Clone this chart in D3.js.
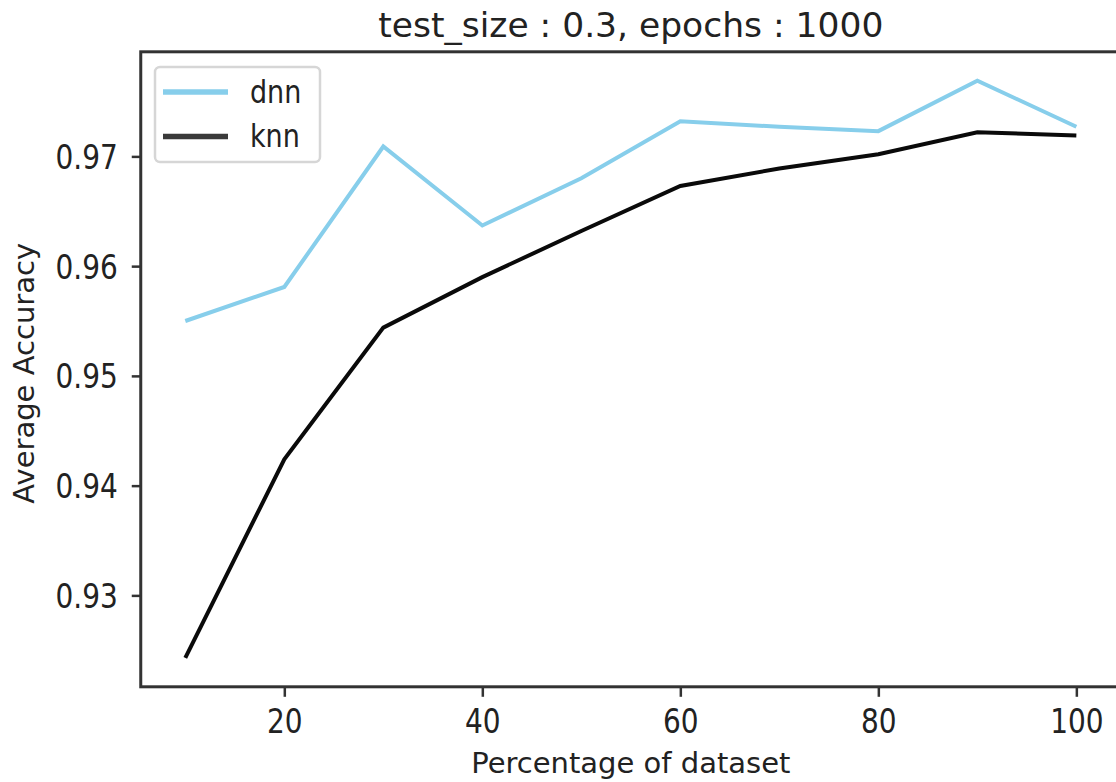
<!DOCTYPE html>
<html>
<head>
<meta charset="utf-8">
<script src="https://cdn.jsdelivr.net/npm/d3@7"></script>
<style>
  html, body { margin: 0; padding: 0; background: #fff; }
  svg { display: block; font-family: "DejaVu Sans", sans-serif; }
</style>
</head>
<body>
<svg id="chart" width="1116" height="782"></svg>
<script>
// ---- data ----
const percentages = [10, 20, 30, 40, 50, 60, 70, 80, 90, 100];
const dnnAccuracy = [0.9550, 0.9581, 0.9709, 0.9637, 0.9680, 0.9732, 0.9727, 0.9723, 0.9769, 0.9727];
const knnAccuracy = [0.9243, 0.9424, 0.9544, 0.9590, 0.9632, 0.9673, 0.9689, 0.9702, 0.9722, 0.9719];
const seriesNames = ["dnn", "knn"];
const xTicks = [20, 40, 60, 80, 100];
const yTicks = [0.93, 0.94, 0.95, 0.96, 0.97];
const titleText = "test_size : 0.3, epochs : 1000";
const xLabelText = "Percentage of dataset";
const yLabelText = "Average Accuracy";

// ---- layout ----
const plotLeft = 140.75, plotRight = 1120.9, plotTop = 51.8, plotBottom = 686.8;
const textColor = "#222";
const spineColor = "#333";

const svg = d3.select("#chart");

// matplotlib-like 5% margins
const xExt = d3.extent(percentages);
const xPad = (xExt[1] - xExt[0]) * 0.05;
const allY = dnnAccuracy.concat(knnAccuracy);
const yExt = d3.extent(allY);
const yPad = (yExt[1] - yExt[0]) * 0.05;

const x = d3.scaleLinear().domain([xExt[0] - xPad, xExt[1] + xPad]).range([plotLeft, plotRight]);
const y = d3.scaleLinear().domain([yExt[0] - yPad, yExt[1] + yPad]).range([plotBottom, plotTop]);

// ---- lines ----
const line = d3.line().x((d, i) => x(percentages[i])).y(d => y(d));

svg.append("path").datum(dnnAccuracy)
  .attr("d", line).attr("fill", "none")
  .attr("stroke", "#87CEEB").attr("stroke-width", 4).attr("stroke-linejoin", "miter");
svg.append("path").datum(knnAccuracy)
  .attr("d", line).attr("fill", "none")
  .attr("stroke", "#0a0a0a").attr("stroke-width", 4).attr("stroke-linejoin", "miter");

// ---- axes ----
const xAxis = d3.axisBottom(x).tickValues(xTicks).tickSize(10).tickPadding(12).tickFormat(d3.format("d"));
const yAxis = d3.axisLeft(y).tickValues(yTicks).tickSize(9).tickPadding(14).tickFormat(d3.format(".2f"));

const gx = svg.append("g").attr("transform", `translate(0,${plotBottom})`).call(xAxis);
const gy = svg.append("g").attr("transform", `translate(${plotLeft},0)`).call(yAxis);

[gx, gy].forEach(g => {
  g.select(".domain").remove();
  g.selectAll(".tick line").attr("stroke", spineColor).attr("stroke-width", 2.5);
  g.selectAll(".tick text").attr("fill", textColor).attr("font-size", 28)
    .attr("font-family", "DejaVu Sans");
});
// slight vertical stretch of tick labels as in the reference
gx.selectAll(".tick text").attr("dy", null).attr("y", 0)
  .attr("transform", "translate(0,46) scale(1,1.18)");
gy.selectAll(".tick text").attr("dy", null).attr("x", 0)
  .attr("transform", "translate(-23,12) scale(1,1.18)");

// spines (left, top, bottom; right lies outside the canvas)
svg.append("rect")
  .attr("x", plotLeft).attr("y", plotTop)
  .attr("width", plotRight - plotLeft).attr("height", plotBottom - plotTop)
  .attr("fill", "none").attr("stroke", spineColor).attr("stroke-width", 3);

// ---- titles ----
svg.append("text").attr("x", (plotLeft + plotRight) / 2).attr("y", 37)
  .attr("text-anchor", "middle").attr("font-size", 34.5).attr("fill", textColor)
  .text(titleText);
svg.append("text").attr("x", (plotLeft + plotRight) / 2).attr("y", 773)
  .attr("text-anchor", "middle").attr("font-size", 29).attr("fill", textColor)
  .text(xLabelText);
svg.append("text")
  .attr("transform", `translate(34,${(plotTop + plotBottom) / 2 + 4}) rotate(-90)`)
  .attr("text-anchor", "middle").attr("font-size", 29).attr("fill", textColor)
  .text(yLabelText);

// ---- legend ----
const legendColors = ["#87CEEB", "#3a3a3a"];
const lg = svg.append("g");
lg.append("rect").attr("x", 155).attr("y", 67).attr("width", 165).attr("height", 95)
  .attr("rx", 5).attr("fill", "#fff").attr("stroke", "#d6d6d6").attr("stroke-width", 2.5);
seriesNames.forEach((name, i) => {
  const yy = 92 + i * 44.5;
  lg.append("line").attr("x1", 163).attr("x2", 228).attr("y1", yy).attr("y2", yy)
    .attr("stroke", legendColors[i]).attr("stroke-width", 5.5);
  lg.append("text").attr("x", 250).attr("y", yy + 11)
    .attr("font-size", 27).attr("fill", textColor)
    .attr("transform", `translate(0,${yy + 11}) scale(1,1.15) translate(0,${-(yy + 11)})`)
    .text(name);
});
</script>
</body>
</html>
